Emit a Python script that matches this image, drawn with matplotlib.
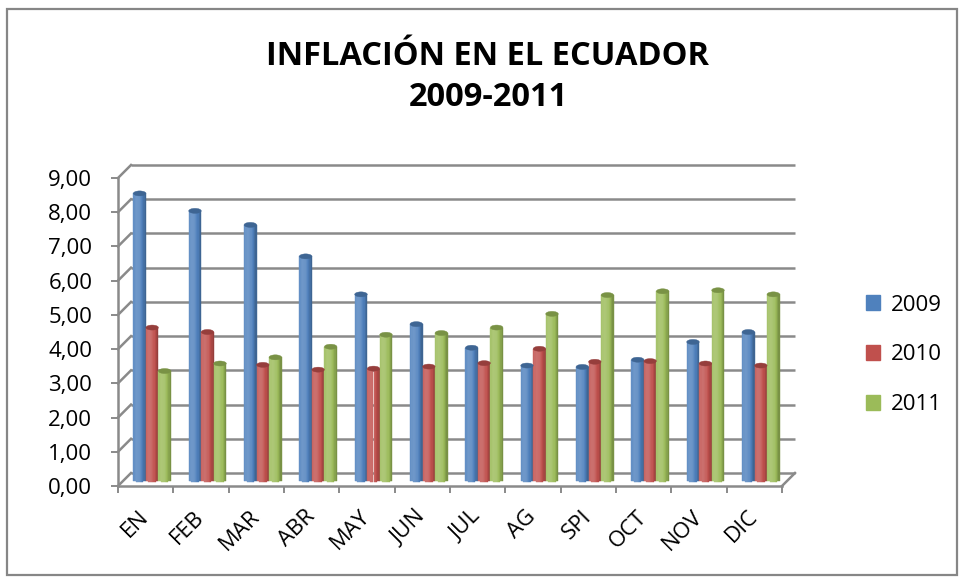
import matplotlib
matplotlib.use("Agg")
import matplotlib.pyplot as plt
import matplotlib.colors as mcolors
from matplotlib.patches import Ellipse, Patch, Rectangle
import numpy as np

months = ["EN", "FEB", "MAR", "ABR", "MAY", "JUN", "JUL", "AG", "SPI", "OCT", "NOV", "DIC"]
years = ["2009", "2010", "2011"]
v2009 = [8.36, 7.85, 7.44, 6.52, 5.41, 4.54, 3.85, 3.33, 3.29, 3.50, 4.02, 4.31]
v2010 = [4.44, 4.31, 3.35, 3.21, 3.24, 3.30, 3.40, 3.82, 3.44, 3.46, 3.39, 3.33]
v2011 = [3.17, 3.39, 3.57, 3.88, 4.23, 4.28, 4.44, 4.84, 5.39, 5.50, 5.53, 5.41]
yticks = [0, 1, 2, 3, 4, 5, 6, 7, 8, 9]

colors = ["#4F81BD", "#C0504D", "#9BBB59"]
grid_c = "#8a8a8a"

plt.rcParams["font.family"] = ["Open Sans", "DejaVu Sans"]

W, H = 960, 581
fig = plt.figure(figsize=(W / 100, H / 100), dpi=100)
ax = fig.add_axes([118 / W, 1 - 486 / H, 664 / W, 308 / H])
ax.set_xlim(-0.5, 11.5)
ax.set_ylim(0, 9)

# depth of the fake 3d box (13 px) in data units
dx = 13 / (664 / 12)
dy = 13 / (308 / 9)

# back wall + side wall grid
for v in yticks:
    ax.plot([-0.5 + dx, 11.5 + dx], [v + dy, v + dy], color=grid_c, lw=1.8,
            clip_on=False, zorder=1, solid_capstyle="butt")
    ax.plot([-0.5, -0.5 + dx], [v, v + dy], color=grid_c, lw=1.8,
            clip_on=False, zorder=1)
ax.plot([11.5, 11.5 + dx], [0, dy], color=grid_c, lw=1.8, clip_on=False, zorder=1)


def shade(c, u):
    r = np.array(mcolors.to_rgb(c))
    t = max(0.0, 1 - ((u + 0.4) / 1.4) ** 2)
    f = 0.72 + 0.43 * t
    if f > 1:
        return tuple(r + (1 - r) * (f - 1) * 1.2)
    return tuple(r * f)


bw = 0.226
eh = 5 / (308 / 9)
nstrip = 10
for k, vals in enumerate([v2009, v2010, v2011]):
    for i, val in enumerate(vals):
        xc = i + (k - 1) * bw + dx / 2
        y0 = dy / 2
        edges = np.linspace(xc - bw / 2, xc + bw / 2, nstrip + 1)
        for s in range(nstrip):
            u = (s + 0.5) / nstrip * 2 - 1
            col = shade(colors[k], u)
            drop = eh / 2 * np.sqrt(1 - u * u)
            ax.bar(edges[s], val + drop, width=bw / nstrip, bottom=y0 - drop,
                   align="edge", color=col, ec=col, lw=0.3, zorder=3)
        top = tuple(np.array(mcolors.to_rgb(colors[k])) * 0.78)
        ax.add_patch(Ellipse((xc, y0 + val), bw, eh, fc=top, ec=top, lw=0.3, zorder=4))

for side in ["top", "right"]:
    ax.spines[side].set_visible(False)
for side in ["left", "bottom"]:
    ax.spines[side].set_color(grid_c)
    ax.spines[side].set_linewidth(1.8)

ax.set_yticks(yticks)
ax.set_yticklabels([f"{v},00" for v in yticks])
ax.tick_params(axis="y", length=5, width=1.4, color=grid_c, pad=13.5, labelsize=16)

ax.set_xticks(range(len(months)))
ax.set_xticklabels(months, rotation=45, ha="right", va="center", rotation_mode="anchor")
ax.tick_params(axis="x", which="major", length=0, pad=20, labelsize=16)
ax.set_xticks(np.arange(-0.5, 12, 1), minor=True)
ax.tick_params(axis="x", which="minor", length=5, width=1.4, color=grid_c)

handles = [Patch(fc=c, ec=c) for c in colors]
fig.legend(handles, years, loc="center left", bbox_to_anchor=(866 / W, 1 - 355 / H),
           frameon=False, fontsize=16, handlelength=0.65, handleheight=0.65,
           handletextpad=0.45, labelspacing=1.3, borderpad=0, borderaxespad=0)

fig.suptitle("INFLACIÓN EN EL ECUADOR\n2009-2011", x=488 / W, y=1 - 77 / H, va="center",
             fontsize=23.5, fontweight="bold", linespacing=1.35)

fig.patches.append(Rectangle((7 / W, 1 - 575 / H), 950 / W, 566 / H, transform=fig.transFigure,
                             fc="none", ec="#868686", lw=1.6))

fig.savefig("out.png", dpi=100)
